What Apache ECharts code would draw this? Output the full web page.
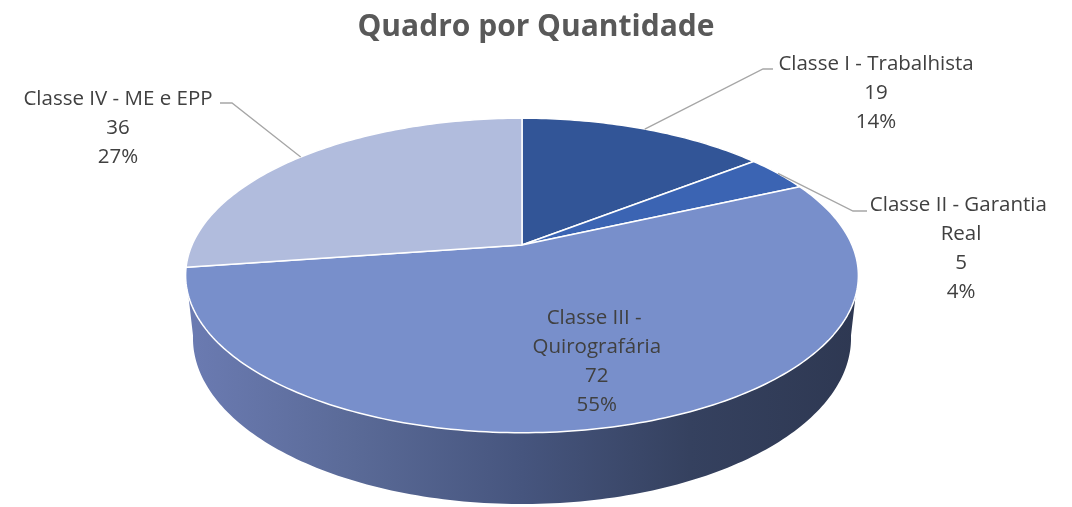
<!DOCTYPE html>
<html>
<head>
<meta charset="utf-8">
<script src="https://cdn.jsdelivr.net/npm/echarts@6/dist/echarts.min.js"></script>
<style>
html, body { margin: 0; padding: 0; background: #fff; }
#chart { width: 1072px; height: 507px; }
</style>
</head>
<body>
<div id="chart"></div>
<script>
var categories = ['Classe I - Trabalhista', 'Classe II - Garantia Real', 'Classe III - Quirografária', 'Classe IV - ME e EPP'];
var values = [19, 5, 72, 36];
var colors = ['#325597', '#3B64B3', '#788FCB', '#B1BCDD'];

// 3d view of the pie (perspective, tilted)
var CX = 522, CY = 245, K = 330, PHI = 27.3 * Math.PI / 180, DIST = 4.585, DEPTH = 0.215;
// outside labels: [text x, text y, elbow x, elbow y, end x]; null -> inside the slice
var labelPos = [[876, 93, 763, 69, 773], [961, 249, 853, 211, 867], null, [118, 128, 232, 103, 220]];
var wrapWidth = [240, 200, 145, 240];

var total = values.reduce(function (a, b) { return a + b; }, 0);

function rad(d) { return d * Math.PI / 180; }

function project(r, theta, y) {
    var X = r * Math.sin(theta), Z = r * Math.cos(theta);
    var yc = y * Math.cos(PHI) + Z * Math.sin(PHI);
    var dc = -y * Math.sin(PHI) + Z * Math.cos(PHI);
    var s = K / (1 + dc / DIST);
    return [CX + X * s, CY - yc * s];
}

function arc(from, to, y) {
    var n = Math.max(2, Math.ceil(Math.abs(to - from) / rad(1)));
    var pts = [];
    for (var i = 0; i <= n; i++) {
        pts.push(project(1, from + (to - from) * i / n, y));
    }
    return pts;
}

var sideFill = new echarts.graphic.LinearGradient(187, 0, 858, 0, [
    { offset: 0, color: '#6B7BB2' },
    { offset: 0.25, color: '#5A6A97' },
    { offset: 0.5, color: '#46557E' },
    { offset: 0.75, color: '#35415F' },
    { offset: 1, color: '#2E3852' }
], true);

function renderItem(params, api) {
    var i = params.dataIndex;
    var v = api.value(0);
    var before = 0;
    for (var j = 0; j < i; j++) before += values[j];
    var a0 = before / total * 2 * Math.PI;
    var a1 = (before + v) / total * 2 * Math.PI;
    var children = [];

    // side wall, only the front part is visible
    var s0 = Math.max(a0, rad(100)), s1 = Math.min(a1, rad(260));
    if (s1 > s0) {
        var side = arc(s0, s1, 0).concat(arc(s1, s0, -DEPTH));
        children.push({
            type: 'polygon',
            shape: { points: side },
            style: { fill: sideFill, stroke: null },
            z2: 1
        });
    }

    // top face
    var top = [project(0, 0, 0)].concat(arc(a0, a1, 0));
    children.push({
        type: 'polygon',
        shape: { points: top },
        style: { fill: colors[i], stroke: '#ffffff', lineWidth: 1.5, lineJoin: 'round' },
        z2: 5
    });

    // label
    var mid = (a0 + a1) / 2;
    var pct = Math.round(v / total * 100);
    var txt = categories[i] + '\n' + v + '\n' + pct + '%';
    var tx, ty;
    var lp = labelPos[i];
    if (lp) {
        var start = project(1, mid, 0);
        children.push({
            type: 'polyline',
            shape: { points: [start, [lp[2], lp[3]], [lp[4], lp[3]]] },
            style: { stroke: '#A6A6A6', lineWidth: 1.3, fill: null },
            z2: 10
        });
        tx = lp[0]; ty = lp[1];
    } else {
        var p = project(0.7, mid, 0);
        tx = p[0]; ty = p[1];
    }
    children.push({
        type: 'text',
        x: tx,
        y: ty,
        style: {
            text: txt,
            fill: '#404040',
            fontSize: 20.5,
            fontFamily: '"Open Sans"',
            align: 'center',
            verticalAlign: 'middle',
            lineHeight: 29,
            width: wrapWidth[i],
            overflow: 'break'
        },
        z2: 20
    });

    return { type: 'group', children: children };
}

var myChart = echarts.init(document.getElementById('chart'));
var option = {
    animation: false,
    title: {
        text: 'Quadro por Quantidade',
        left: 'center',
        top: 7,
        textStyle: {
            fontFamily: '"Open Sans"',
            fontSize: 30,
            fontWeight: 'bold',
            color: '#595959'
        }
    },
    series: [{
        type: 'custom',
        coordinateSystem: 'none',
        silent: true,
        renderItem: renderItem,
        data: values.map(function (v) { return [v]; })
    }]
};
myChart.setOption(option);
</script>
</body>
</html>
